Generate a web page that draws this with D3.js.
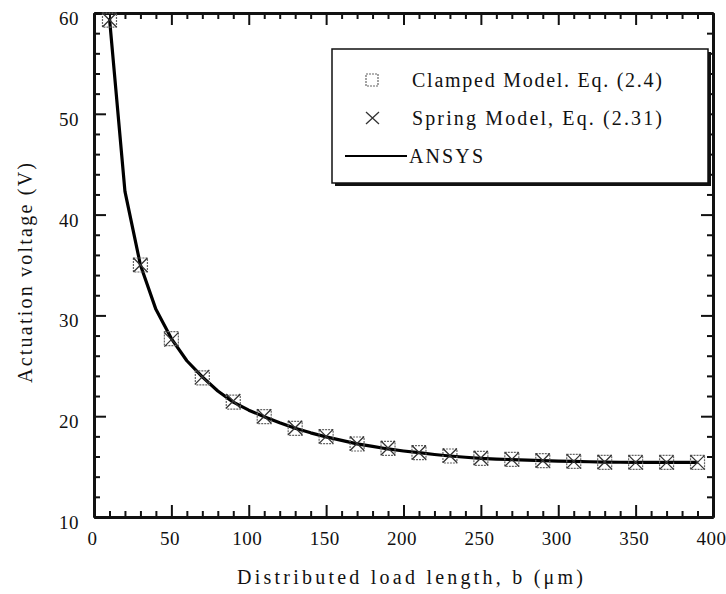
<!DOCTYPE html>
<html>
<head>
<meta charset="utf-8">
<script src="https://cdn.jsdelivr.net/npm/d3@7"></script>
<style>
    body { margin: 0; background: #fff; }
    svg { display: block; }
    .axis text { font-family: "Liberation Serif", "Times New Roman", serif; font-size: 19px; fill: #111; letter-spacing: 0.5px; }
    .axis line { stroke: #111; stroke-width: 2px; }
    .axis path { stroke: #111; stroke-width: 3px; }
    .label { font-family: "Liberation Serif", "Times New Roman", serif; font-size: 20px; fill: #111; }
</style>
</head>
<body>
<svg id="chart" width="726" height="594"></svg>
<script>
// data
var markerX = [10, 30, 50, 70, 90, 110, 130, 150, 170, 190, 210, 230, 250, 270, 290, 310, 330, 350, 370, 390];
var clampedV = [59.3, 35.0, 27.7, 23.8, 21.4, 19.95, 18.8, 17.97, 17.24, 16.8, 16.38, 16.05, 15.82, 15.72, 15.59, 15.52, 15.42, 15.42, 15.42, 15.42];
var springV = [59.3, 35.0, 27.6, 23.9, 21.5, 20.0, 18.85, 18.0, 17.3, 16.85, 16.4, 16.1, 15.85, 15.72, 15.6, 15.52, 15.45, 15.42, 15.42, 15.42];
var ansysX = [10, 20, 30, 40, 50, 60, 70, 80, 90, 100, 110, 120, 130, 140, 150, 160, 170, 180, 190, 200,
              210, 220, 230, 240, 250, 260, 270, 280, 290, 300, 310, 320, 330, 340, 350, 360, 370, 380, 390];
var ansysV = [59.5, 42.3, 35.0, 30.6, 27.7, 25.5, 23.9, 22.5, 21.4, 20.6, 19.95, 19.35, 18.8, 18.35, 17.95, 17.6, 17.25, 17.0, 16.75, 16.55,
              16.38, 16.2, 16.05, 15.93, 15.82, 15.75, 15.7, 15.64, 15.59, 15.55, 15.52, 15.48, 15.45, 15.43, 15.42, 15.42, 15.42, 15.42, 15.42];
var xTicks = [0, 50, 100, 150, 200, 250, 300, 350, 400];
var yTicks = [10, 20, 30, 40, 50, 60];
var legendLabels = ['Clamped Model. Eq. (2.4)', 'Spring Model, Eq. (2.31)', 'ANSYS'];

var svg = d3.select('#chart');
var plotLeft = 94, plotRight = 713, plotTop = 13, plotBottom = 517;

var x = d3.scaleLinear().domain([0, 400]).range([plotLeft, plotRight]);
var y = d3.scaleLinear().domain([10, 60]).range([plotBottom, plotTop]);

var xMinor = d3.range(0, 401, 10).filter(function(d) { return d % 50 !== 0; });
var yMinor = d3.range(10, 61, 2).filter(function(d) { return d % 10 !== 0; });

function drawAxis(axis, tx, ty) {
    return svg.append('g').attr('class', 'axis')
            .attr('transform', 'translate(' + tx + ',' + ty + ')')
            .call(axis);
}

// minor ticks first, all four sides
drawAxis(d3.axisBottom(x).tickValues(xMinor).tickSize(-6).tickSizeOuter(0).tickFormat(''), 0, plotBottom);
drawAxis(d3.axisTop(x).tickValues(xMinor).tickSize(-6).tickSizeOuter(0).tickFormat(''), 0, plotTop);
drawAxis(d3.axisLeft(y).tickValues(yMinor).tickSize(-6).tickSizeOuter(0).tickFormat(''), plotLeft, 0);
drawAxis(d3.axisRight(y).tickValues(yMinor).tickSize(-6).tickSizeOuter(0).tickFormat(''), plotRight, 0);

// major ticks
drawAxis(d3.axisTop(x).tickValues(xTicks).tickSize(-12).tickSizeOuter(0).tickFormat(''), 0, plotTop);
drawAxis(d3.axisRight(y).tickValues(yTicks).tickSize(-12).tickSizeOuter(0).tickFormat(''), plotRight, 0);

var xAxis = drawAxis(d3.axisBottom(x).tickValues(xTicks).tickSize(-12).tickSizeOuter(0).tickPadding(15), 0, plotBottom);
xAxis.selectAll('text').attr('dx', -2);
var yAxis = drawAxis(d3.axisLeft(y).tickValues(yTicks).tickSize(-12).tickSizeOuter(0).tickPadding(15), plotLeft, 0);
yAxis.selectAll('text').attr('dy', '0.6em');

// ANSYS curve
var line = d3.line()
        .x(function(d, i) { return x(ansysX[i]); })
        .y(function(d) { return y(d); });

svg.append('path')
        .datum(ansysV)
        .attr('d', line)
        .attr('fill', 'none')
        .attr('stroke', '#000')
        .attr('stroke-width', 3.2)
        .attr('stroke-linejoin', 'round');

// markers
var half = 7;
svg.selectAll('.sq').data(clampedV).enter()
        .append('rect')
        .attr('class', 'sq')
        .attr('x', function(d, i) { return x(markerX[i]) - half; })
        .attr('y', function(d) { return y(d) - half; })
        .attr('width', half * 2)
        .attr('height', half * 2)
        .attr('fill', 'none')
        .attr('stroke', '#666')
        .attr('stroke-width', 1.2)
        .attr('stroke-dasharray', '2,1');

svg.selectAll('.cross').data(springV).enter()
        .append('path')
        .attr('class', 'cross')
        .attr('d', function(d, i) {
            var cx = x(markerX[i]), cy = y(d);
            return 'M' + (cx - half) + ',' + (cy - half) + 'L' + (cx + half) + ',' + (cy + half) +
                   'M' + (cx - half) + ',' + (cy + half) + 'L' + (cx + half) + ',' + (cy - half);
        })
        .attr('stroke', '#333')
        .attr('stroke-width', 1.3);

// axis titles
svg.append('text').attr('class', 'label')
        .attr('x', 410).attr('y', 584)
        .attr('text-anchor', 'middle')
        .attr('textLength', 346).attr('lengthAdjust', 'spacing')
        .text('Distributed load length, b (\u03bcm)');

svg.append('text').attr('class', 'label')
        .attr('transform', 'translate(32,273) rotate(-90)')
        .attr('text-anchor', 'middle')
        .attr('textLength', 220).attr('lengthAdjust', 'spacing')
        .text('Actuation voltage (V)');

// legend
var lg = svg.append('g');
lg.append('rect').attr('x', 335).attr('y', 52).attr('width', 376).attr('height', 134).attr('fill', '#111');
lg.append('rect').attr('x', 332).attr('y', 49).attr('width', 376).attr('height', 134)
        .attr('fill', '#fff').attr('stroke', '#111').attr('stroke-width', 1.5);

var legendY = [80, 118, 156];
lg.append('rect').attr('x', 366).attr('y', legendY[0] - 6).attr('width', 12).attr('height', 12)
        .attr('fill', 'none').attr('stroke', '#666').attr('stroke-width', 1.2).attr('stroke-dasharray', '2,1');
lg.append('path')
        .attr('d', 'M366,' + (legendY[1] - 6) + 'L379,' + (legendY[1] + 6) + 'M366,' + (legendY[1] + 6) + 'L379,' + (legendY[1] - 6))
        .attr('stroke', '#333').attr('stroke-width', 1.3);
lg.append('line').attr('x1', 345).attr('x2', 407).attr('y1', legendY[2]).attr('y2', legendY[2])
        .attr('stroke', '#000').attr('stroke-width', 2);

var lens = [250, 250, 74];
lg.selectAll('.legend-text').data(legendLabels).enter()
        .append('text')
        .attr('class', 'label')
        .attr('x', function(d, i) { return i === 2 ? 409 : 412; })
        .attr('y', function(d, i) { return legendY[i] + 7; })
        .attr('textLength', function(d, i) { return lens[i]; })
        .attr('lengthAdjust', 'spacing')
        .text(function(d) { return d; });
</script>
</body>
</html>
